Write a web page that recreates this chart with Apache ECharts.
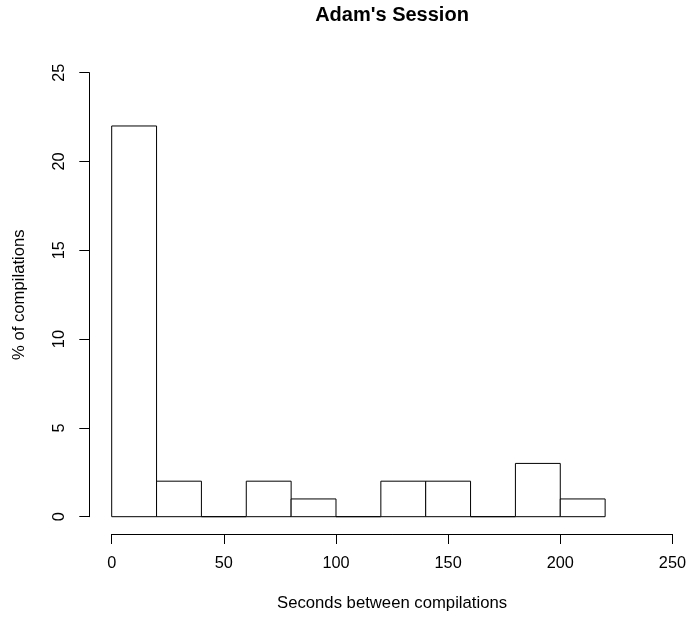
<!DOCTYPE html>
<html><head><meta charset="utf-8">
<script src="https://cdn.jsdelivr.net/npm/echarts@6/dist/echarts.min.js"></script>
<style>html,body{margin:0;padding:0;background:#fff}#c{width:689px;height:617px}</style>
</head><body><div id="c"></div>
<script>
var breaks = [0,20,40,60,80,100,120,140,160,180,200,220];
var counts = [22,2,0,2,1,0,2,2,0,3,1];
var xTicks = [0,50,100,150,200,250];
var yTicks = [0,5,10,15,20,25];

var data = counts.map(function(c,i){ return [breaks[i], breaks[i+1], c]; });
var FONT = 'Liberation Sans, Arial, Helvetica, sans-serif';
var chart = echarts.init(document.getElementById('c'), null, {renderer:'canvas'});
chart.setOption({
  animation:false,
  backgroundColor:'#fff',
  title:{text:"Adam's Session", left:387, textAlign:'center', top:0,
    textStyle:{fontFamily:FONT, fontWeight:'bold', fontSize:20, color:'#000'}},
  grid:{left:111.7, right:14.7, top:72.7, bottom:100.3, containLabel:false},
  xAxis:{type:'value', min:xTicks[0], max:xTicks[xTicks.length-1], interval:50, offset:17.3,
    name:'Seconds between compilations', nameLocation:'middle', nameGap:61,
    nameTextStyle:{fontFamily:FONT, fontSize:16.7, color:'#000'},
    axisLine:{show:true, onZero:false, lineStyle:{color:'#000', width:1}},
    axisTick:{show:true, length:10, lineStyle:{color:'#000'}},
    axisLabel:{fontFamily:FONT, fontSize:16.3, color:'#000', margin:22, showMinLabel:true, showMaxLabel:true},
    splitLine:{show:false}},
  yAxis:{type:'value', min:yTicks[0], max:yTicks[yTicks.length-1], interval:5, offset:22.4,
    name:'% of compilations', nameLocation:'middle', nameGap:61,
    nameTextStyle:{fontFamily:FONT, fontSize:16.7, color:'#000'},
    axisLine:{show:true, onZero:false, lineStyle:{color:'#000', width:1}},
    axisTick:{show:true, length:10, lineStyle:{color:'#000'}},
    axisLabel:{fontFamily:FONT, fontSize:16.3, color:'#000', margin:22, rotate:90, showMinLabel:true, showMaxLabel:true},
    splitLine:{show:false}},
  series:[{type:'custom', data:data, clip:false,
    renderItem:function(params, api){
      var p0 = api.coord([api.value(0), 0]);
      var p1 = api.coord([api.value(1), api.value(2)]);
      return {type:'polygon', shape:{points:[[p0[0],p0[1]],[p0[0],p1[1]],[p1[0],p1[1]],[p1[0],p0[1]]]},
        style:{fill:'#fff', stroke:'#000', lineWidth:1}};
    }}]
});
</script></body></html>
